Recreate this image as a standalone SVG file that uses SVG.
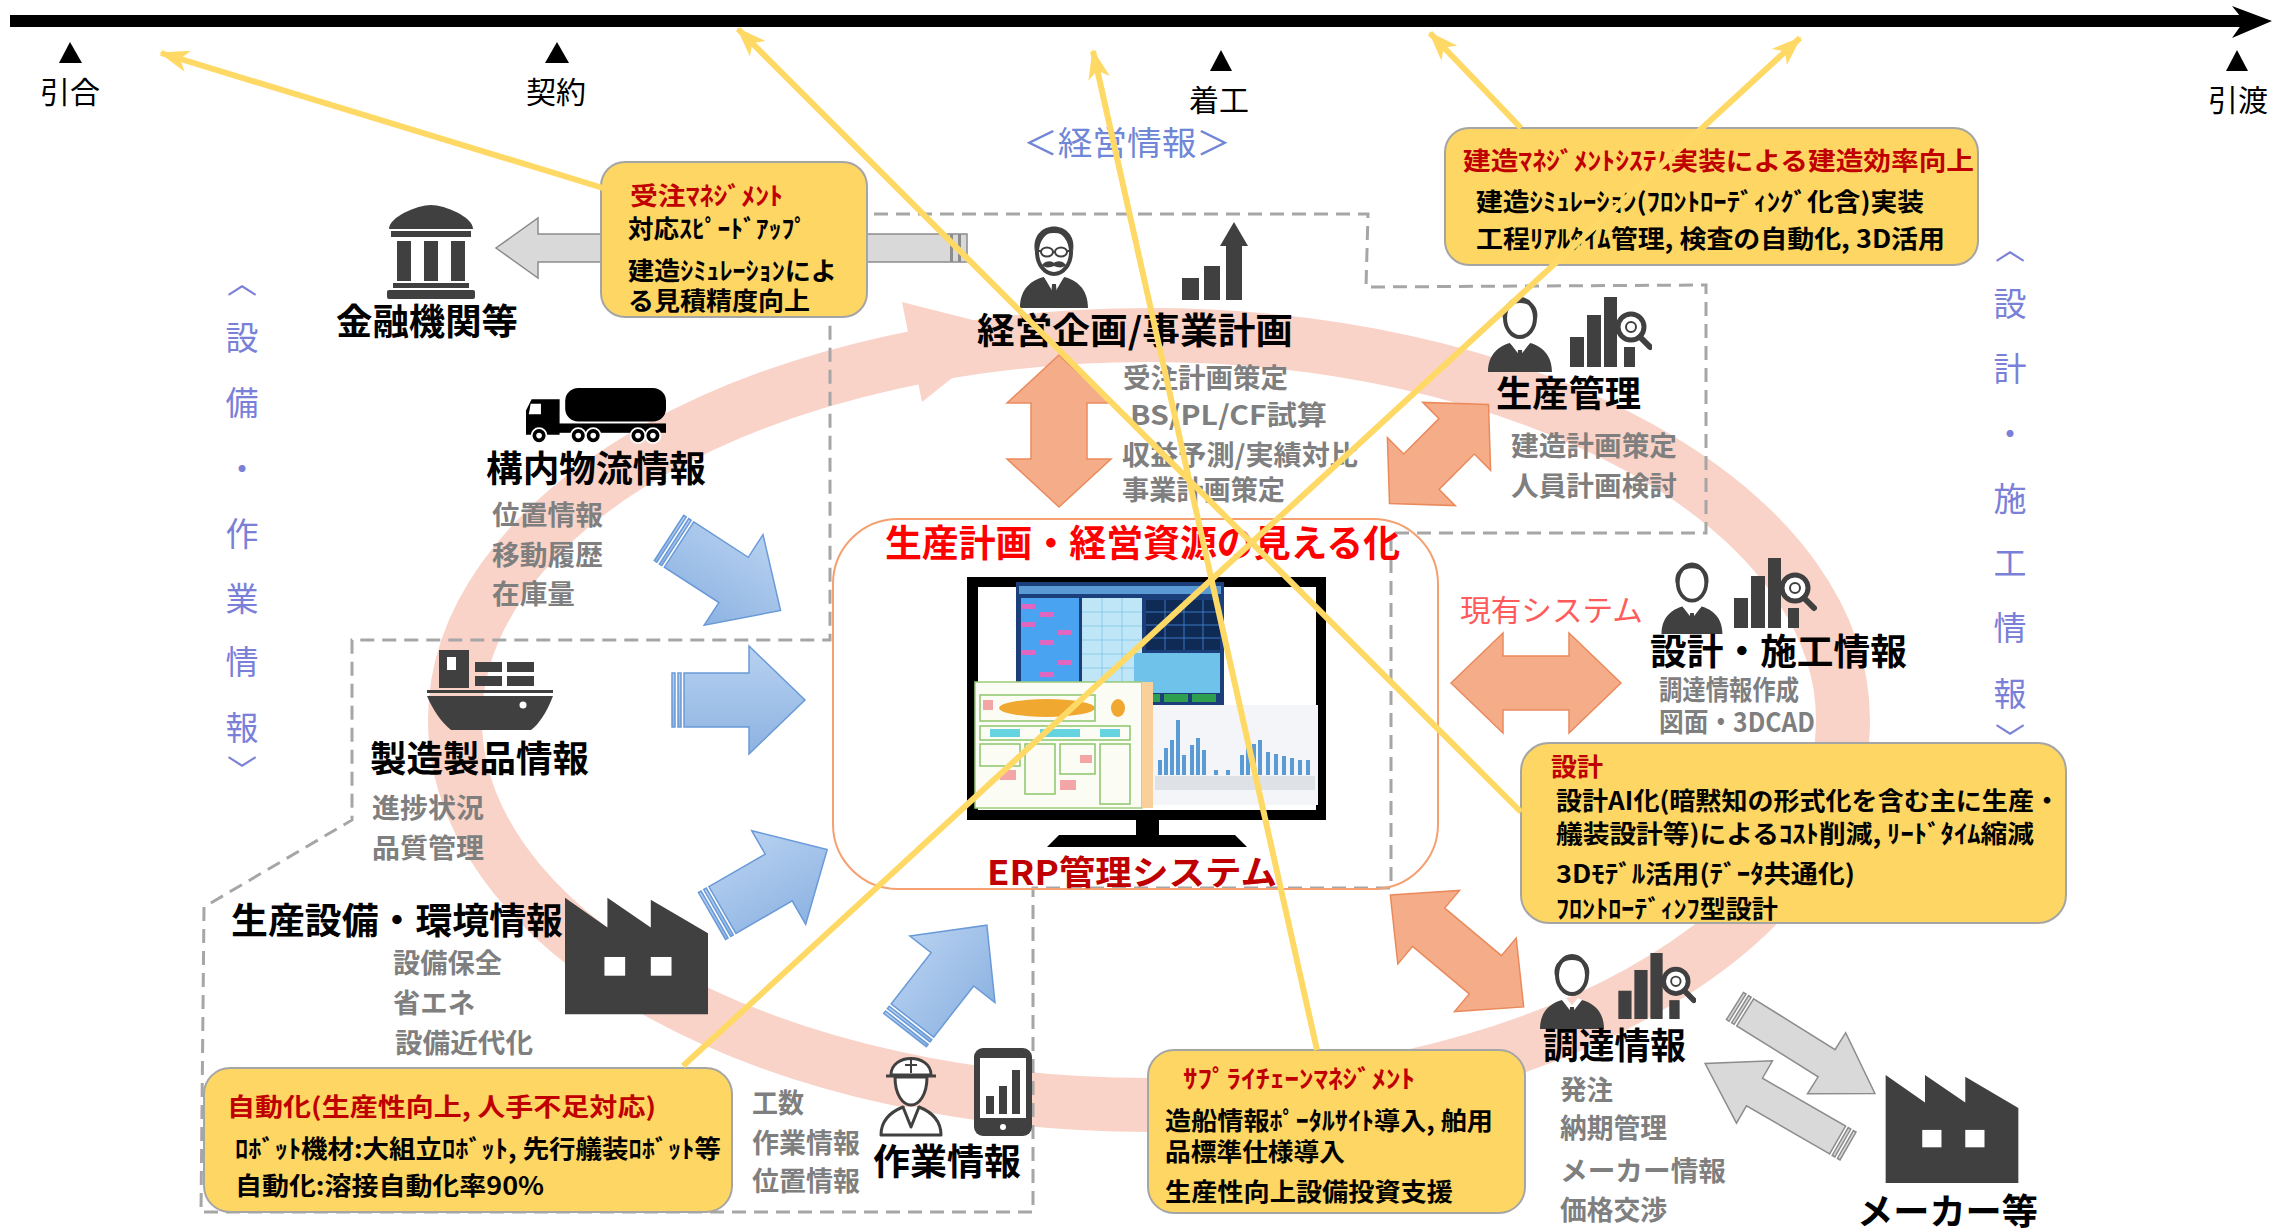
<svg xmlns="http://www.w3.org/2000/svg" xmlns:xlink="http://www.w3.org/1999/xlink" width="2292" height="1232" viewBox="0 0 2292 1232">
<style>
  text { font-family: 'Noto Sans CJK JP', 'Noto Sans', sans-serif; }
  .tl { font-size: 30px; fill: #000; text-anchor: middle; }
  .h { font-size: 36px; font-weight: 700; fill: #000; }
  .s { font-size: 27px; font-weight: 700; fill: #7f7f7f; }
  .c { font-size: 25px; font-weight: 700; fill: #000; }
  .cr { fill: #c00000; }
  .v { font-size: 33px; fill: #7a80d8; text-anchor: middle; dominant-baseline: central; }
  .vb { font-size: 30px; fill: #7a80d8; text-anchor: middle; dominant-baseline: central; }
  .callout { fill: #fdd663; stroke: #a5a5a5; stroke-width: 2; }
  .dash { fill: none; stroke: #a6a6a6; stroke-width: 3; stroke-dasharray: 14 8; }
  .ylink { stroke: #ffd966; stroke-width: 6; fill: none; marker-end: url(#ya); }
  .orange { fill: #f4ad88; stroke: #ea8a5c; stroke-width: 1.5; }
  .blue { fill: url(#bg); stroke: #6a9ad8; stroke-width: 1.5; }
  .grey { fill: #d9d9d9; stroke: #8c8c8c; stroke-width: 1.5; }
  .ic { fill: #404040; }
</style>
<defs>
  <linearGradient id="bg" x1="0" y1="0" x2="0" y2="1">
    <stop offset="0" stop-color="#b7d1f0"/>
    <stop offset="1" stop-color="#8db3e2"/>
  </linearGradient>
  <marker id="ya" viewBox="0 0 30 22" refX="28" refY="11" markerWidth="30" markerHeight="22" markerUnits="userSpaceOnUse" orient="auto">
    <path d="M0,0 L30,11 L0,22 L8,11 Z" fill="#ffd966"/>
  </marker>
  <!-- striped block arrow pointing right, tail at x=0 -->
  <g id="barrow">
    <rect x="0" y="-27" width="3" height="54"/>
    <rect x="6" y="-27" width="3" height="54"/>
    <polygon points="12,-27 77,-27 77,-54 133,0 77,54 77,27 12,27"/>
  </g>
  <g id="garrow">
    <rect x="0" y="-16" width="3" height="32"/>
    <rect x="6" y="-16" width="3" height="32"/>
    <polygon points="12,-16 108,-16 108,-36 165,0 108,36 108,16 12,16"/>
  </g>
  <symbol id="person" viewBox="0 0 70 84">
    <path class="ic" d="M3,84 C3,66 14,58 25,55 L35,64 L45,55 C56,58 67,66 67,84 Z"/>
    <path d="M25,55 L35,68 L45,55 L41,53 L35,60 L29,53 Z" fill="#fff"/>
    <path class="ic" d="M33,62 L37,62 L38,74 L35,78 L32,74 Z"/>
    <ellipse cx="35" cy="30" rx="15" ry="19" fill="#fff" stroke="#404040" stroke-width="4"/>
    <path class="ic" d="M18,31 C13,5 57,5 52,31 C50,20 44,15 35,15 C26,15 20,20 18,31 Z"/>
  </symbol>
  <symbol id="manager" viewBox="0 0 76 92">
    <path class="ic" d="M4,92 C4,72 16,64 28,61 L38,74 L48,61 C60,64 72,72 72,92 Z"/>
    <path d="M28,61 L38,78 L48,61 L44,59 L38,68 L32,59 Z" fill="#fff"/>
    <path class="ic" d="M36,68 L40,68 L41,82 L38,86 L35,82 Z"/>
    <ellipse cx="38" cy="36" rx="17" ry="22" fill="#fff" stroke="#404040" stroke-width="4"/>
    <path class="ic" d="M19,36 C13,2 63,2 57,36 C55,24 50,17 38,17 C26,17 21,24 19,36 Z"/>
    <ellipse cx="31" cy="36" rx="6" ry="4.5" fill="none" stroke="#404040" stroke-width="2"/>
    <ellipse cx="45" cy="36" rx="6" ry="4.5" fill="none" stroke="#404040" stroke-width="2"/>
    <path d="M37,36 L39,36 M22,35 L25,35 M51,35 L54,35" stroke="#404040" stroke-width="2"/>
    <path class="ic" d="M26,49 C30,44 36,45 38,47 C40,45 46,44 50,49 C46,53 41,51 38,50 C35,51 30,53 26,49 Z"/>
  </symbol>
  <symbol id="growth" viewBox="0 0 68 78">
    <rect class="ic" x="0" y="56" width="17" height="22"/>
    <rect class="ic" x="22" y="44" width="16" height="34"/>
    <rect class="ic" x="44" y="22" width="16" height="56"/>
    <polygon class="ic" points="38,24 52,0 66,24"/>
  </symbol>
  <symbol id="chartmag" viewBox="0 0 82 70">
    <rect class="ic" x="0" y="40" width="14" height="30"/>
    <rect class="ic" x="17" y="18" width="14" height="52"/>
    <rect class="ic" x="34" y="0" width="13" height="70"/>
    <rect class="ic" x="54" y="50" width="11" height="20"/>
    <circle cx="61" cy="30" r="13" fill="#fff" stroke="#404040" stroke-width="5"/>
    <circle cx="61" cy="30" r="5" fill="none" stroke="#404040" stroke-width="2"/>
    <path d="M70,40 L80,50" stroke="#404040" stroke-width="6" stroke-linecap="round"/>
  </symbol>
  <symbol id="bank" viewBox="0 0 88 96">
    <path class="ic" d="M2,26 C2,14 30,2 44,2 C58,2 86,14 86,26 Z"/>
    <rect class="ic" x="4" y="28" width="80" height="6"/>
    <rect class="ic" x="10" y="38" width="14" height="40"/>
    <rect class="ic" x="37" y="38" width="14" height="40"/>
    <rect class="ic" x="64" y="38" width="14" height="40"/>
    <rect class="ic" x="6" y="80" width="76" height="5"/>
    <rect class="ic" x="0" y="87" width="88" height="9" rx="2"/>
  </symbol>
  <symbol id="truck" viewBox="0 0 150 60">
    <rect x="42" y="0" width="108" height="36" rx="14" fill="#000"/>
    <path d="M0,50 L0,24 L6,12 L36,12 L36,50 Z" fill="#000"/>
    <path d="M5,17 L16,17 L16,28 L3,28 Z" fill="#fff"/>
    <rect x="0" y="38" width="150" height="10" fill="#000"/>
    <g fill="#000" stroke="#fff" stroke-width="2">
      <circle cx="14" cy="51" r="8"/><circle cx="56" cy="51" r="8"/><circle cx="72" cy="51" r="8"/>
      <circle cx="120" cy="51" r="8"/><circle cx="136" cy="51" r="8"/>
    </g>
    <g fill="#fff">
      <circle cx="14" cy="51" r="3"/><circle cx="56" cy="51" r="3"/><circle cx="72" cy="51" r="3"/>
      <circle cx="120" cy="51" r="3"/><circle cx="136" cy="51" r="3"/>
    </g>
  </symbol>
  <symbol id="ship" viewBox="0 0 126 80">
    <rect class="ic" x="12" y="0" width="30" height="38"/>
    <rect x="20" y="7" width="9" height="13" fill="#fff"/>
    <rect class="ic" x="48" y="12" width="27" height="10"/>
    <rect class="ic" x="80" y="12" width="27" height="10"/>
    <rect class="ic" x="48" y="26" width="27" height="10"/>
    <rect class="ic" x="80" y="26" width="27" height="10"/>
    <rect class="ic" x="0" y="40" width="126" height="3"/>
    <path class="ic" d="M0,46 L126,46 C120,62 112,74 104,80 L24,80 C14,72 6,60 0,46 Z"/>
    <circle cx="96" cy="55" r="3.5" fill="#fff"/>
  </symbol>
  <symbol id="factory" viewBox="0 0 145 118">
    <path class="ic" d="M0,118 L0,0 L43,30 L43,0 L87,30 L87,2 L145,36 L145,118 Z"/>
    <rect x="40" y="60" width="21" height="19" fill="#fff"/>
    <rect x="87" y="60" width="21" height="19" fill="#fff"/>
  </symbol>
  <symbol id="worker" viewBox="0 0 68 92">
    <g fill="#fff" stroke="#404040" stroke-width="3" stroke-linejoin="round">
      <path d="M4,90 C4,74 16,66 26,62 L34,74 L42,62 C52,66 64,74 64,90 Z"/>
      <path d="M26,62 L34,82 L42,62"/>
      <path d="M18,32 C18,50 26,60 34,60 C42,60 50,50 50,32 Z"/>
      <path d="M14,30 C14,8 54,8 54,30 Z"/>
      <path d="M9,31 L59,31"/>
      <path d="M34,12 L34,28 M28,20 L40,20" stroke-width="2"/>
    </g>
  </symbol>
  <symbol id="phone" viewBox="0 0 58 88">
    <rect class="ic" x="0" y="0" width="58" height="88" rx="9"/>
    <rect x="6" y="10" width="46" height="60" fill="#fff"/>
    <rect class="ic" x="12" y="48" width="8" height="18"/>
    <rect class="ic" x="25" y="38" width="8" height="28"/>
    <rect class="ic" x="38" y="22" width="8" height="44"/>
    <circle cx="29" cy="79" r="3" fill="#fff"/>
  </symbol>
</defs>

<rect width="2292" height="1232" fill="#fff"/>

<!-- cycle band behind the diagram -->
<g id="cycle">
  <ellipse cx="1149" cy="720" rx="694" ry="385" fill="none" stroke="#f9d3c7" stroke-width="54"/>
  <polygon points="902,302 1012,330 922,402" fill="#f9d3c7"/>
</g>

<!-- timeline -->
<g id="timeline">
  <rect x="10" y="15" width="2240" height="12" fill="#000"/>
  <polygon points="2232,6 2272,21 2232,38 2244,21" fill="#000"/>
  <polygon points="59,63 70,42 82,63" fill="#000"/>
  <polygon points="545,63 557,42 569,63" fill="#000"/>
  <polygon points="1210,71 1221,50 1232,71" fill="#000"/>
  <polygon points="2226,71 2237,50 2248,71" fill="#000"/>
  <text class="tl" x="70" y="103">引合</text>
  <text class="tl" x="556" y="103">契約</text>
  <text class="tl" x="1219" y="111">着工</text>
  <text class="tl" x="2238" y="111">引渡</text>
</g>

<!-- side category labels -->
<g id="label-left">
  <text class="vb" x="242" y="280">︿</text>
  <text class="v" x="242" y="336">設</text>
  <text class="v" x="242" y="401">備</text>
  <text class="v" x="242" y="467">・</text>
  <text class="v" x="242" y="532">作</text>
  <text class="v" x="242" y="597">業</text>
  <text class="v" x="242" y="660">情</text>
  <text class="v" x="242" y="726">報</text>
  <text class="vb" x="242" y="768">﹀</text>
</g>
<g id="label-right">
  <text class="vb" x="2010" y="246">︿</text>
  <text class="v" x="2010" y="302">設</text>
  <text class="v" x="2010" y="367">計</text>
  <text class="v" x="2010" y="432">・</text>
  <text class="v" x="2010" y="497">施</text>
  <text class="v" x="2010" y="561">工</text>
  <text class="v" x="2010" y="626">情</text>
  <text class="v" x="2010" y="692">報</text>
  <text class="vb" x="2010" y="736">﹀</text>
</g>
<text id="label-top" x="1023" y="155" font-size="33" fill="#7086d6" textLength="208" lengthAdjust="spacingAndGlyphs">＜経営情報＞</text>

<!-- dashed boundary of the in-house systems -->
<path id="boundary" class="dash" d="M830,214 L1368,214 L1366,287 L1706,285 L1706,533 L1391,533 L1391,888 L1033,888 L1033,1212 L201,1212 L204,907 L352,820 L352,640 L830,640 Z"/>

<!-- ERP -->
<g id="erp">
  <rect x="833" y="519" width="605" height="370" rx="65" fill="none" stroke="#f4a070" stroke-width="2"/>
  <text x="885" y="557" font-size="37" font-weight="700" fill="#ff0000" textLength="515" lengthAdjust="spacingAndGlyphs">生産計画・経営資源の見える化</text>
  <rect x="967" y="577" width="359" height="243" fill="#000"/>
  <rect x="978" y="587" width="338" height="223" fill="#fff"/>
  <!-- dashboard screenshot -->
  <rect x="1016" y="582" width="208" height="123" fill="#1b3f7a"/>
  <rect x="1019" y="586" width="202" height="8" fill="#5b9bd5"/>
  <rect x="1021" y="598" width="58" height="100" fill="#4aa3f0"/>
  <g fill="#e066c0">
    <rect x="1021" y="604" width="14" height="5"/><rect x="1040" y="612" width="14" height="5"/>
    <rect x="1021" y="622" width="14" height="5"/><rect x="1058" y="630" width="14" height="5"/>
    <rect x="1040" y="640" width="14" height="5"/><rect x="1021" y="650" width="14" height="5"/>
    <rect x="1058" y="660" width="14" height="5"/><rect x="1040" y="672" width="14" height="5"/>
    <rect x="1021" y="684" width="14" height="5"/><rect x="1097" y="640" width="14" height="4"/>
    <rect x="1097" y="660" width="14" height="4"/>
  </g>
  <rect x="1082" y="598" width="60" height="100" fill="#bfe6f6"/>
  <path d="M1082,612 H1142 M1082,626 H1142 M1082,640 H1142 M1082,654 H1142 M1082,668 H1142 M1082,682 H1142 M1102,598 V698 M1122,598 V698" stroke="#8ccbe8" stroke-width="1"/>
  <rect x="1146" y="600" width="74" height="50" fill="#0e2a55"/>
  <path d="M1146,612 H1220 M1146,625 H1220 M1146,638 H1220 M1165,600 V650 M1184,600 V650 M1203,600 V650" stroke="#3a78c2" stroke-width="1"/>
  <rect x="1134" y="653" width="86" height="40" fill="#6fc3ea"/>
  <g fill="#2e9e4f"><rect x="1136" y="694" width="24" height="8"/><rect x="1164" y="694" width="24" height="8"/><rect x="1192" y="694" width="24" height="8"/></g>
  <!-- yard layout -->
  <rect x="975" y="682" width="167" height="126" fill="#fbfdf5" stroke="#9ccc7a" stroke-width="1.5"/>
  <ellipse cx="1047" cy="708" rx="48" ry="9" fill="#f0a830"/>
  <ellipse cx="1118" cy="708" rx="7" ry="9" fill="#f0a830"/>
  <g fill="none" stroke="#8cc56a" stroke-width="1.5">
    <rect x="980" y="695" width="115" height="26"/>
    <rect x="980" y="726" width="150" height="14"/>
    <rect x="980" y="744" width="40" height="22"/>
    <rect x="1025" y="744" width="30" height="50"/>
    <rect x="1060" y="744" width="35" height="30"/>
    <rect x="1100" y="744" width="30" height="60"/>
  </g>
  <g fill="#66d4e0"><rect x="990" y="729" width="30" height="8"/><rect x="1040" y="729" width="40" height="8"/><rect x="1100" y="729" width="20" height="8"/></g>
  <g fill="#f4a6a6"><rect x="983" y="700" width="10" height="10"/><rect x="1060" y="780" width="16" height="10"/><rect x="1000" y="770" width="16" height="10"/><rect x="1080" y="755" width="12" height="8"/></g>
  <rect x="1142" y="682" width="11" height="126" fill="#f9cf9a"/>
  <!-- bar chart -->
  <rect x="1153" y="705" width="165" height="100" fill="#f3f5f8"/>
  <g fill="#5b9bd5">
    <rect x="1158" y="760" width="4" height="15"/><rect x="1164" y="748" width="4" height="27"/><rect x="1170" y="740" width="4" height="35"/>
    <rect x="1176" y="720" width="4" height="55"/><rect x="1182" y="755" width="4" height="20"/><rect x="1190" y="745" width="4" height="30"/>
    <rect x="1196" y="738" width="4" height="37"/><rect x="1202" y="750" width="4" height="25"/><rect x="1214" y="770" width="4" height="5"/>
    <rect x="1226" y="770" width="4" height="5"/><rect x="1240" y="755" width="4" height="20"/><rect x="1246" y="748" width="4" height="27"/>
    <rect x="1252" y="744" width="4" height="31"/><rect x="1258" y="740" width="4" height="35"/><rect x="1266" y="752" width="4" height="23"/>
    <rect x="1274" y="754" width="4" height="21"/><rect x="1282" y="756" width="4" height="19"/><rect x="1290" y="758" width="4" height="17"/>
    <rect x="1298" y="760" width="4" height="15"/><rect x="1306" y="760" width="4" height="15"/>
  </g>
  <rect x="1155" y="776" width="160" height="14" fill="#d0d4da" opacity="0.6"/>
  <path d="M1136,820 H1159 V835 H1136 Z" fill="#000"/>
  <path d="M1059,835 L1235,835 L1247,847 L1047,847 Z" fill="#000"/>
  <text x="987" y="885" font-size="34" font-weight="700" fill="#c00000" textLength="290" lengthAdjust="spacingAndGlyphs">ERP管理システム</text>
</g>

<!-- finance -->
<g id="node-finance">
  <polygon class="grey" points="967,234 538,234 538,218 496,248 538,278 538,262 967,262"/>
  <rect x="950" y="234" width="3" height="28" fill="#8c8c8c"/><rect x="958" y="234" width="3" height="28" fill="#8c8c8c"/>
  <use href="#bank" x="387" y="203" width="88" height="96"/>
  <text class="h" x="336" y="335" textLength="182" lengthAdjust="spacingAndGlyphs">金融機関等</text>
</g>

<!-- management planning -->
<g id="node-management">
  <use href="#manager" x="1016" y="216" width="76" height="92"/>
  <use href="#growth" x="1182" y="222" width="68" height="78"/>
  <text class="h" x="977" y="344" textLength="316" lengthAdjust="spacingAndGlyphs">経営企画/事業計画</text>
  <text class="s" x="1123" y="388" textLength="165" lengthAdjust="spacingAndGlyphs">受注計画策定</text>
  <text class="s" x="1130" y="425" textLength="197" lengthAdjust="spacingAndGlyphs">BS/PL/CF試算</text>
  <text class="s" x="1122" y="465" textLength="236" lengthAdjust="spacingAndGlyphs">収益予測/実績対比</text>
  <text class="s" x="1122" y="500" textLength="163" lengthAdjust="spacingAndGlyphs">事業計画策定</text>
</g>

<!-- production control -->
<g id="node-production">
  <use href="#person" x="1485" y="288" width="70" height="84"/>
  <use href="#chartmag" x="1570" y="297" width="82" height="70"/>
  <text class="h" x="1496" y="407" textLength="145" lengthAdjust="spacingAndGlyphs">生産管理</text>
  <text class="s" x="1511" y="456" textLength="166" lengthAdjust="spacingAndGlyphs">建造計画策定</text>
  <text class="s" x="1511" y="496" textLength="166" lengthAdjust="spacingAndGlyphs">人員計画検討</text>
</g>

<!-- design / construction -->
<g id="node-design">
  <text x="1460" y="621" font-size="30" fill="#ff5b5b" textLength="183" lengthAdjust="spacingAndGlyphs">現有システム</text>
  <use href="#person" x="1658" y="554" width="68" height="80"/>
  <use href="#chartmag" x="1733" y="558" width="84" height="70"/>
  <text class="h" x="1650" y="665" textLength="257" lengthAdjust="spacingAndGlyphs">設計・施工情報</text>
  <text class="s" x="1659" y="700" font-size="23" textLength="140" lengthAdjust="spacingAndGlyphs">調達情報作成</text>
  <text class="s" x="1659" y="732" font-size="23" textLength="156" lengthAdjust="spacingAndGlyphs">図面・3DCAD</text>
</g>

<!-- procurement -->
<g id="node-procurement">
  <use href="#person" x="1537" y="945" width="70" height="84"/>
  <use href="#chartmag" x="1618" y="953" width="78" height="66"/>
  <text class="h" x="1543" y="1059" textLength="143" lengthAdjust="spacingAndGlyphs">調達情報</text>
  <text class="s" x="1560" y="1100" textLength="53" lengthAdjust="spacingAndGlyphs">発注</text>
  <text class="s" x="1560" y="1138" textLength="107" lengthAdjust="spacingAndGlyphs">納期管理</text>
  <text class="s" x="1560" y="1181" textLength="166" lengthAdjust="spacingAndGlyphs">メーカー情報</text>
  <text class="s" x="1560" y="1220" textLength="107" lengthAdjust="spacingAndGlyphs">価格交渉</text>
</g>

<!-- makers -->
<g id="node-maker">
  <use href="#factory" x="1885" y="1075" width="134" height="108"/>
  <text class="h" x="1857" y="1225" textLength="181" lengthAdjust="spacingAndGlyphs">メーカー等</text>
</g>

<!-- yard logistics -->
<g id="node-logistics">
  <use href="#truck" x="522" y="388" width="148" height="56"/>
  <text class="h" x="486" y="482" textLength="220" lengthAdjust="spacingAndGlyphs">構内物流情報</text>
  <text class="s" x="492" y="525" textLength="111" lengthAdjust="spacingAndGlyphs">位置情報</text>
  <text class="s" x="492" y="565" textLength="111" lengthAdjust="spacingAndGlyphs">移動履歴</text>
  <text class="s" x="492" y="604" textLength="83" lengthAdjust="spacingAndGlyphs">在庫量</text>
</g>

<!-- products -->
<g id="node-product">
  <use href="#ship" x="427" y="650" width="126" height="80"/>
  <text class="h" x="370" y="772" textLength="219" lengthAdjust="spacingAndGlyphs">製造製品情報</text>
  <text class="s" x="372" y="818" textLength="112" lengthAdjust="spacingAndGlyphs">進捗状況</text>
  <text class="s" x="372" y="858" textLength="112" lengthAdjust="spacingAndGlyphs">品質管理</text>
</g>

<!-- equipment -->
<g id="node-equipment">
  <use href="#factory" x="565" y="897" width="143" height="118"/>
  <text class="h" x="231" y="934" textLength="332" lengthAdjust="spacingAndGlyphs">生産設備・環境情報</text>
  <text class="s" x="393" y="973" textLength="109" lengthAdjust="spacingAndGlyphs">設備保全</text>
  <text class="s" x="393" y="1013" textLength="82" lengthAdjust="spacingAndGlyphs">省エネ</text>
  <text class="s" x="395" y="1053" textLength="138" lengthAdjust="spacingAndGlyphs">設備近代化</text>
</g>

<!-- work -->
<g id="node-work">
  <use href="#worker" x="876" y="1045" width="70" height="92"/>
  <use href="#phone" x="974" y="1048" width="58" height="88"/>
  <text class="h" x="873" y="1175" textLength="148" lengthAdjust="spacingAndGlyphs">作業情報</text>
  <text class="s" x="752" y="1113" textLength="52" lengthAdjust="spacingAndGlyphs">工数</text>
  <text class="s" x="752" y="1153" textLength="108" lengthAdjust="spacingAndGlyphs">作業情報</text>
  <text class="s" x="752" y="1191" textLength="108" lengthAdjust="spacingAndGlyphs">位置情報</text>
</g>

<!-- data flows -->
<g id="connectors">
  <g class="blue">
    <use href="#barrow" transform="translate(669,538) rotate(33)"/>
    <use href="#barrow" transform="translate(672,700)"/>
    <use href="#barrow" transform="translate(712,916) rotate(-30)"/>
    <use href="#barrow" transform="translate(905,1030) rotate(-52)"/>
  </g>
  <g class="orange">
    <polygon transform="translate(1059,431) rotate(90)" points="-76,0 -28,-52 -28,-28 28,-28 28,-52 76,0 28,52 28,28 -28,28 -28,52"/>
    <polygon transform="translate(1439,454) rotate(-45)" points="-70,0 -25,-48 -25,-25 25,-25 25,-48 70,0 25,48 25,25 -25,25 -25,48"/>
    <polygon transform="translate(1536,683)" points="-85,0 -33,-50 -33,-27 33,-27 33,-50 85,0 33,50 33,27 -33,27 -33,50"/>
    <polygon transform="translate(1457,951) rotate(40)" points="-87,0 -37,-48 -37,-25 37,-25 37,-48 87,0 37,48 37,25 -37,25 -37,48"/>
  </g>
  <g class="grey">
    <use href="#garrow" transform="translate(1735,1006) rotate(32)"/>
    <use href="#garrow" transform="translate(1848,1146) rotate(210)"/>
  </g>
</g>

<!-- improvement notes -->
<g id="note-order">
  <rect class="callout" x="601" y="162" width="266" height="155" rx="24"/>
  <text class="c cr" x="630" y="205" textLength="153" lengthAdjust="spacingAndGlyphs">受注ﾏﾈｼﾞﾒﾝﾄ</text>
  <text class="c" x="628" y="238" textLength="179" lengthAdjust="spacingAndGlyphs">対応ｽﾋﾟｰﾄﾞｱｯﾌﾟ</text>
  <text class="c" x="628" y="280" textLength="209" lengthAdjust="spacingAndGlyphs">建造ｼﾐｭﾚｰｼｮﾝによ</text>
  <text class="c" x="628" y="310" textLength="182" lengthAdjust="spacingAndGlyphs">る見積精度向上</text>
</g>
<g id="note-build">
  <rect class="callout" x="1445" y="128" width="533" height="137" rx="24"/>
  <text class="c cr" x="1463" y="170" font-size="27" textLength="511" lengthAdjust="spacingAndGlyphs">建造ﾏﾈｼﾞﾒﾝﾄｼｽﾃﾑ実装による建造効率向上</text>
  <text class="c" x="1476" y="211" textLength="448" lengthAdjust="spacingAndGlyphs">建造ｼﾐｭﾚｰｼｮﾝ(ﾌﾛﾝﾄﾛｰﾃﾞｨﾝｸﾞ化含)実装</text>
  <text class="c" x="1476" y="248" textLength="469" lengthAdjust="spacingAndGlyphs">工程ﾘｱﾙﾀｲﾑ管理, 検査の自動化, 3D活用</text>
</g>
<g id="note-design">
  <rect class="callout" x="1521" y="743" width="545" height="180" rx="28"/>
  <text class="c cr" x="1551" y="776" textLength="52" lengthAdjust="spacingAndGlyphs">設計</text>
  <text class="c" x="1556" y="810" textLength="504" lengthAdjust="spacingAndGlyphs">設計AI化(暗黙知の形式化を含む主に生産・</text>
  <text class="c" x="1556" y="843" textLength="478" lengthAdjust="spacingAndGlyphs">艤装設計等)によるｺｽﾄ削減, ﾘｰﾄﾞﾀｲﾑ縮減</text>
  <text class="c" x="1556" y="883" textLength="299" lengthAdjust="spacingAndGlyphs">3Dﾓﾃﾞﾙ活用(ﾃﾞｰﾀ共通化)</text>
  <text class="c" x="1556" y="918" textLength="222" lengthAdjust="spacingAndGlyphs">ﾌﾛﾝﾄﾛｰﾃﾞｨﾝﾌ型設計</text>
</g>
<g id="note-auto">
  <rect class="callout" x="204" y="1068" width="528" height="144" rx="26"/>
  <text class="c cr" x="227" y="1116" textLength="429" lengthAdjust="spacingAndGlyphs">自動化(生産性向上, 人手不足対応)</text>
  <text class="c" x="235" y="1158" textLength="486" lengthAdjust="spacingAndGlyphs">ﾛﾎﾞｯﾄ機材:大組立ﾛﾎﾞｯﾄ, 先行艤装ﾛﾎﾞｯﾄ等</text>
  <text class="c" x="235" y="1195" textLength="309" lengthAdjust="spacingAndGlyphs">自動化:溶接自動化率90%</text>
</g>
<g id="note-supply">
  <rect class="callout" x="1148" y="1050" width="377" height="163" rx="26"/>
  <text class="c cr" x="1183" y="1088" textLength="232" lengthAdjust="spacingAndGlyphs">ｻﾌﾟﾗｲﾁｪｰﾝﾏﾈｼﾞﾒﾝﾄ</text>
  <text class="c" x="1165" y="1130" textLength="328" lengthAdjust="spacingAndGlyphs">造船情報ﾎﾟｰﾀﾙｻｲﾄ導入, 舶用</text>
  <text class="c" x="1165" y="1161" textLength="180" lengthAdjust="spacingAndGlyphs">品標準仕様導入</text>
  <text class="c" x="1165" y="1201" textLength="288" lengthAdjust="spacingAndGlyphs">生産性向上設備投資支援</text>
</g>

<!-- links from notes to project phases -->
<g id="phase-links">
  <line class="ylink" x1="603" y1="188" x2="161" y2="53"/>
  <line class="ylink" x1="683" y1="1066" x2="1800" y2="38"/>
  <line class="ylink" x1="1521" y1="812" x2="738" y2="29"/>
  <line class="ylink" x1="1317" y1="1050" x2="1093" y2="51"/>
  <line class="ylink" x1="1521" y1="128" x2="1430" y2="33"/>
</g>
</svg>
